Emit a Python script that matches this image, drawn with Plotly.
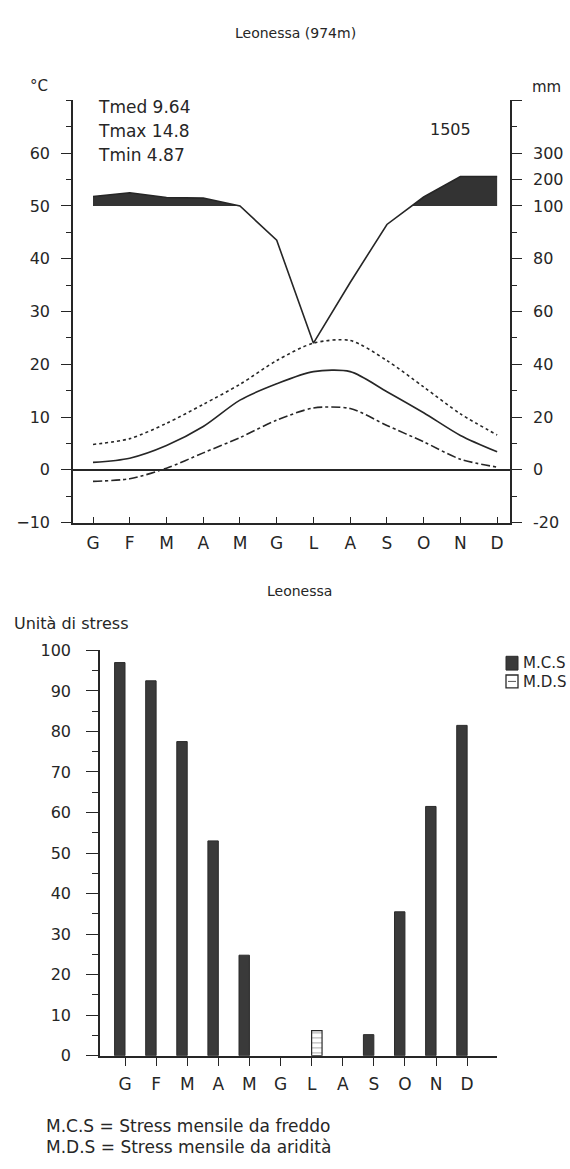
import plotly.graph_objects as go

W, H = 570, 1169

# ---------------- data ----------------
months = ["G", "F", "M", "A", "M", "G", "L", "A", "S", "O", "N", "D"]
month_pos = list(range(1, 13))

t_med = [1.4, 2.2, 4.6, 8.2, 13.2, 16.3, 18.6, 18.6, 14.8, 10.8, 6.5, 3.4]
t_max = [4.8, 5.9, 8.8, 12.4, 16.2, 20.7, 24.0, 24.5, 20.7, 15.7, 10.6, 6.6]
t_min = [-2.2, -1.7, 0.3, 3.2, 6.1, 9.4, 11.7, 11.6, 8.4, 5.3, 2.0, 0.5]
precip_mm = [136, 150, 132, 130, 100, 87, 48, 71, 93, 134, 212, 212]
precip_total = "1505"
temp_labels = ["Tmed 9.64", "Tmax 14.8", "Tmin 4.87"]

temp_ticks = [-10, 0, 10, 20, 30, 40, 50, 60]
mm_tick_labels = ["-20", "0", "20", "40", "60", "80", "100", "200", "300"]
mm_tick_values = [-20, 0, 20, 40, 60, 80, 100, 200, 300]

# None = no stress in that month
mcs = [97, 92.5, 77.5, 53, 24.8, None, None, None, 5.2, 35.5, 61.5, 81.5]
mds = [None, None, None, None, None, None, 6.2, None, None, None, None, None]
stress_ticks = [0, 10, 20, 30, 40, 50, 60, 70, 80, 90, 100]

FONT = "DejaVu Sans, Liberation Sans, Arial, sans-serif"
INK = "#262626"


def mm_to_scale(p):
    # Walter-Lieth scale: 20 mm = 10 degC up to 100 mm, then 100 mm = 5 degC
    return p / 2.0 if p <= 100 else 50 + (p - 100) / 20.0


def px(x):
    return x / W


def py(y):
    return 1 - y / H


precip_y = [mm_to_scale(p) for p in precip_mm]
mm_tick_pos = [mm_to_scale(v) for v in mm_tick_values]

# build humid fill (>100 mm) with interpolated crossings
fx, fy = [], []
for i in range(len(month_pos)):
    if i > 0:
        a, b = precip_y[i - 1], precip_y[i]
        if (a - 50) * (b - 50) < 0:
            t = (50 - a) / (b - a)
            fx.append(month_pos[i - 1] + t)
            fy.append(50)
    fx.append(month_pos[i])
    fy.append(max(precip_y[i], 50))

fig = go.Figure()

# --------- top chart: climate diagram ---------
fig.add_trace(go.Scatter(x=fx, y=[50] * len(fx), mode="lines", line=dict(width=0, color=INK),
                         xaxis="x", yaxis="y2", hoverinfo="skip", showlegend=False))
fig.add_trace(go.Scatter(x=fx, y=fy, mode="lines", line=dict(width=0, color=INK),
                         fill="tonexty", fillcolor="#333333",
                         xaxis="x", yaxis="y2", showlegend=False))
fig.add_trace(go.Scatter(x=month_pos, y=precip_y, mode="lines", line=dict(width=1.6, color=INK),
                         xaxis="x", yaxis="y2", showlegend=False, name="mm"))

fig.add_trace(go.Scatter(x=month_pos, y=t_max, mode="lines",
                         line=dict(width=1.6, color=INK, dash="dot", shape="spline", smoothing=0.8),
                         xaxis="x", yaxis="y", showlegend=False, name="Tmax"))
fig.add_trace(go.Scatter(x=month_pos, y=t_med, mode="lines",
                         line=dict(width=1.6, color=INK, shape="spline", smoothing=0.8),
                         xaxis="x", yaxis="y", showlegend=False, name="Tmed"))
fig.add_trace(go.Scatter(x=month_pos, y=t_min, mode="lines",
                         line=dict(width=1.6, color=INK, dash="dashdot", shape="spline", smoothing=0.8),
                         xaxis="x", yaxis="y", showlegend=False, name="Tmin"))

# --------- bottom chart: stress bars ---------
fig.add_trace(go.Bar(x=month_pos, y=mcs, name="M.C.S.", marker=dict(color="#3a3a3a",
                     line=dict(color="#2a2a2a", width=1)), xaxis="x2", yaxis="y3", showlegend=False))
fig.add_trace(go.Bar(x=month_pos, y=mds, name="M.D.S.",
                     marker=dict(color="white", line=dict(color="#2a2a2a", width=1.2),
                                 pattern=dict(shape="-", size=5, fgcolor="#555555", bgcolor="white", solidity=0.2)),
                     xaxis="x2", yaxis="y3", showlegend=False))

top_dom_x = [px(73), px(510)]
top_dom_y = [py(522), py(93)]
bot_dom_x = [px(100), px(497)]
bot_dom_y = [py(1064), py(652)]

axis_font = dict(family=FONT, size=16, color=INK)
month_font = dict(family=FONT, size=17, color=INK)

fig.update_layout(
    width=W, height=H,
    margin=dict(l=0, r=0, t=0, b=0),
    paper_bgcolor="white", plot_bgcolor="white",
    font=dict(family=FONT, color=INK),
    barmode="group", bargap=0.33, bargroupgap=0.0,
    showlegend=False,
    xaxis=dict(domain=top_dom_x, anchor="y", range=[0.455, 12.35],
               tickmode="array", tickvals=month_pos, ticktext=months,
               ticks="inside", ticklen=6, tickwidth=1.3, tickcolor=INK,
               showline=True, linecolor=INK, linewidth=1.6, showgrid=False, zeroline=False,
               tickfont=month_font, ticklabelstandoff=4, fixedrange=True),
    yaxis=dict(domain=top_dom_y, anchor="x", range=[-10, 70],
               tickmode="array", tickvals=temp_ticks,
               ticks="outside", ticklen=10, tickwidth=1.3, tickcolor=INK,
               minor=dict(dtick=5, tick0=0, ticks="outside", ticklen=5, tickwidth=1.2, tickcolor=INK, showgrid=False),
               showline=True, linecolor=INK, linewidth=1.6, showgrid=False,
               zeroline=True, zerolinecolor=INK, zerolinewidth=1.6,
               tickfont=axis_font, ticklabelstandoff=8, fixedrange=True),
    yaxis2=dict(overlaying="y", side="right", anchor="x", range=[-10, 70],
                tickmode="array", tickvals=mm_tick_pos + [70], ticktext=mm_tick_labels + [""],
                ticks="outside", ticklen=10, tickwidth=1.3, tickcolor=INK,
                minor=dict(dtick=5, tick0=0, ticks="outside", ticklen=5, tickwidth=1.2, tickcolor=INK, showgrid=False),
                showline=True, linecolor=INK, linewidth=1.6, showgrid=False, zeroline=False,
                tickfont=axis_font, ticklabelstandoff=8, fixedrange=True),
    xaxis2=dict(domain=bot_dom_x, anchor="y3", range=[0.196, 12.96],
                tickmode="array", tickvals=month_pos, ticktext=months,
                ticks="outside", ticklen=8, tickwidth=1.2, tickcolor=INK,
                showline=True, linecolor=INK, linewidth=1.6, showgrid=False, zeroline=False,
                tickfont=month_font, ticklabelstandoff=4, fixedrange=True),
    yaxis3=dict(domain=bot_dom_y, anchor="x2", range=[0, 100],
                tickmode="array", tickvals=stress_ticks,
                ticks="outside", ticklen=12, tickwidth=1.3, tickcolor=INK,
                minor=dict(dtick=5, tick0=0, ticks="outside", ticklen=6, tickwidth=1.2, tickcolor=INK, showgrid=False),
                showline=True, linecolor=INK, linewidth=1.6, showgrid=False, zeroline=False,
                tickfont=axis_font, ticklabelstandoff=12, fixedrange=True),
)

ann = []


def text(x, y, s, size=16, anchor="left", yanchor="middle"):
    ann.append(dict(x=px(x), y=py(y), xref="paper", yref="paper", text=s, showarrow=False,
                    xanchor=anchor, yanchor=yanchor, font=dict(family=FONT, size=size, color=INK)))


text(296, 24, "Leonessa (974m)", size=14, anchor="center")
text(28, 78, "°C", size=15)
text(530, 79, "mm", size=15)
for i, s in enumerate(temp_labels):
    text(96, 100 + 24 * i, s, size=17)
text(450, 122, precip_total, size=16, anchor="center")

text(299, 592, "Leonessa", size=14, anchor="center")
text(12, 625, "Unità di stress", size=16)
text(521, 665, "M.C.S", size=15)
text(521, 684, "M.D.S", size=15)
text(44, 1135, "M.C.S = Stress mensile da freddo", size=17)
text(44, 1157, "M.D.S = Stress mensile da aridità", size=17)

fig.update_layout(annotations=ann)

shapes = [
    dict(type="rect", xref="paper", yref="paper", x0=px(506), x1=px(518), y0=py(672), y1=py(658),
         fillcolor="#3a3a3a", line=dict(color="#2a2a2a", width=1)),
    dict(type="rect", xref="paper", yref="paper", x0=px(506), x1=px(518), y0=py(690), y1=py(677),
         fillcolor="white", line=dict(color="#2a2a2a", width=1.3)),
    dict(type="line", xref="paper", yref="paper", x0=px(508), x1=px(516), y0=py(683.5), y1=py(683.5),
         line=dict(color="#555555", width=1)),
]
fig.update_layout(shapes=shapes)

fig.write_html("out.html")
